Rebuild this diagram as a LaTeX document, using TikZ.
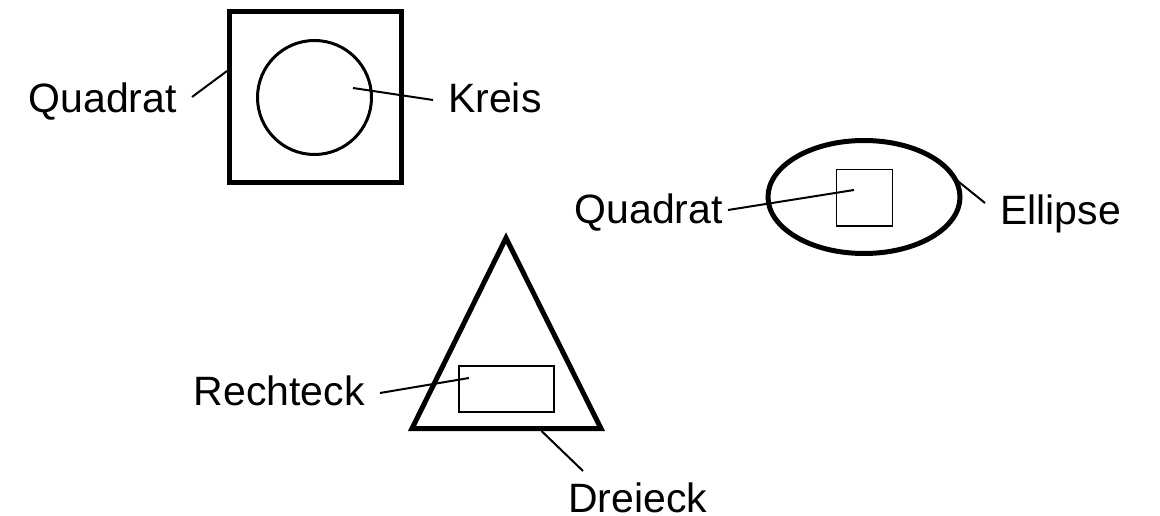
\documentclass[tikz,border=0pt]{standalone}
\usepackage{fontspec}
\setmainfont{Liberation Sans}

\tikzset{
    shapeThick/.style={line width=5pt, line join=miter},
    shapeMid/.style={line width=3pt},
    shapeThin/.style={line width=1.6pt},
    pointer/.style={line width=2pt},
    label/.style={inner sep=0pt, font=\fontsize{41}{49}\selectfont}
}

\begin{document}
\begin{tikzpicture}[x=1pt, y=-1pt]
    \definecolor{borderColour}{HTML}{000000}

    % Fix the page size
    \useasboundingbox (0,0) rectangle (1160,516);

    % Square with circle
    \coordinate (Q1a) at (229,11.5);
    \coordinate (Q1b) at (401.5,183);
    \coordinate (K) at (314.5,97.5);
    \draw[shapeThick, draw=borderColour] (Q1a) rectangle (Q1b);
    \draw[shapeMid, draw=borderColour] (K) circle (57);

    \node[label, anchor=base east] (quadratA) at (177,113) {Quadrat};
    \node[label, anchor=base west] (kreis) at (448,113) {Kreis};
    \coordinate (quadratAend) at (192,97);
    \coordinate (quadratAtip) at (227,71);
    \coordinate (kreisTip) at (353,88);
    \coordinate (kreisEnd) at (433,100);
    \draw[pointer] (quadratAend) -- (quadratAtip);
    \draw[pointer] (kreisTip) -- (kreisEnd);

    % Ellipse with square
    \coordinate (E) at (864,197);
    \draw[shapeThick, draw=borderColour] (E) ellipse (96 and 56.5);
    \draw[shapeThin, draw=borderColour] (836.5,169.5) rectangle (892.5,226);

    \node[label, anchor=base east] (quadratB) at (723,223) {Quadrat};
    \node[label, anchor=base west] (ellipse) at (1000,224) {Ellipse};
    \coordinate (quadratBend) at (728,210);
    \coordinate (quadratBtip) at (854,190);
    \coordinate (ellipseTip) at (954,178);
    \coordinate (ellipseEnd) at (985,203);
    \draw[pointer] (quadratBend) -- (quadratBtip);
    \draw[pointer] (ellipseTip) -- (ellipseEnd);

    % Triangle with rectangle
    \coordinate (A) at (412,428.5);
    \coordinate (B) at (506,238);
    \coordinate (C) at (601,428.5);
    \draw[shapeThick, draw=borderColour] (A) -- (B) -- (C) -- cycle;
    \draw[shapeThin, draw=borderColour] (459,366) rectangle (554,412);

    \node[label, anchor=base east] (rechteck) at (365,405) {Rechteck};
    \node[label, anchor=base west] (dreieck) at (568,512) {Dreieck};
    \coordinate (rechteckEnd) at (380,393);
    \coordinate (rechteckTip) at (469,378);
    \coordinate (dreieckTip) at (541.5,431);
    \coordinate (dreieckEnd) at (583,471);
    \draw[pointer] (rechteckEnd) -- (rechteckTip);
    \draw[pointer] (dreieckTip) -- (dreieckEnd);

\end{tikzpicture}
\end{document}
